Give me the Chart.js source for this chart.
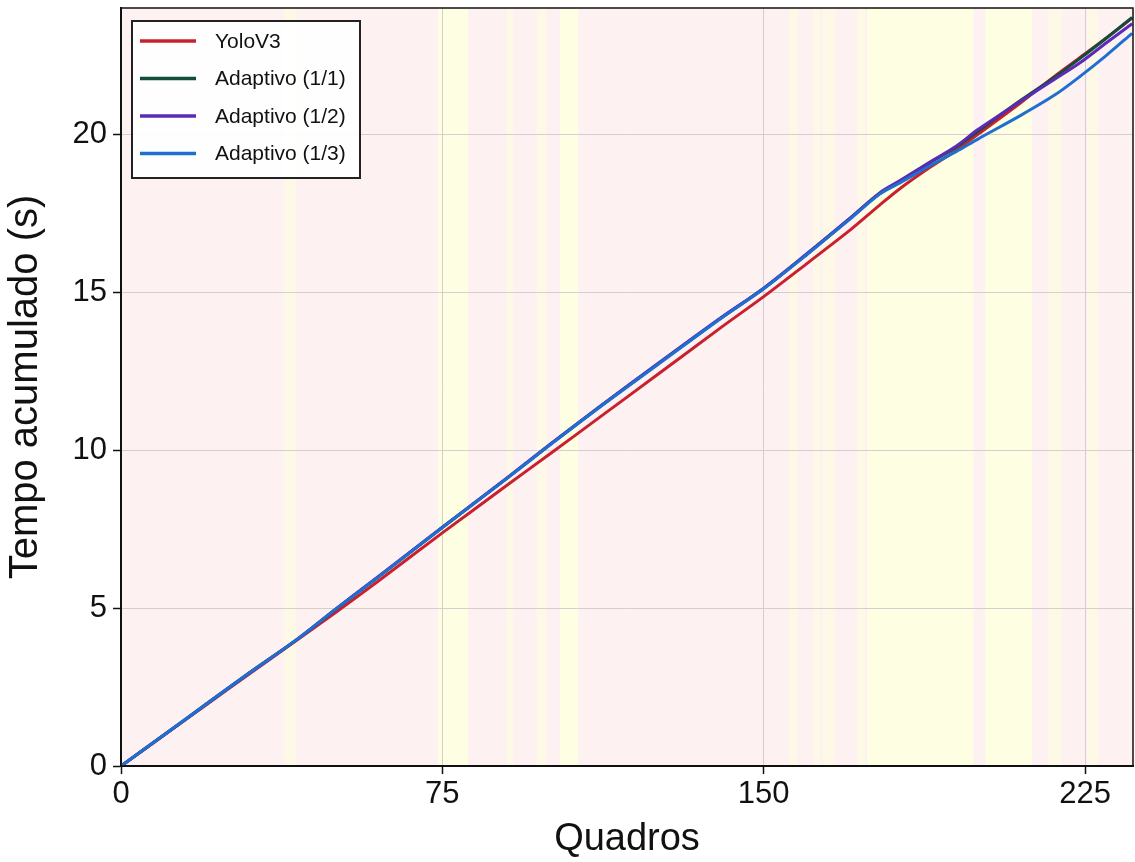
<!DOCTYPE html>
<html>
<head>
<meta charset="utf-8">
<script src="https://cdn.jsdelivr.net/npm/chart.js@4.4.1/dist/chart.umd.min.js"></script>
<style>
  html, body { margin: 0; padding: 0; background: #fff; }
  #wrap { width: 1135px; height: 862px; }
</style>
</head>
<body>
<div id="wrap"><canvas id="chart" width="1135" height="862"></canvas></div>
<script>
(function () {

  /* data */
  const frames = [0, 10, 20, 30, 41, 50, 60, 75, 90, 100, 112, 125, 140, 150, 160, 170, 177, 182, 189, 195, 200, 210, 218, 224, 230, 236];
  const yoloV3 = [0, 0.97, 1.95, 2.92, 3.98, 4.85, 5.85, 7.38, 8.88, 9.87, 11.07, 12.37, 13.88, 14.86, 15.9, 16.95, 17.75, 18.3, 18.97, 19.5, 20.0, 21.0, 21.85, 22.45, 23.05, 23.68];
  const adapt11 = [0, 0.98, 1.97, 2.95, 4.0, 4.95, 5.98, 7.55, 9.1, 10.16, 11.4, 12.7, 14.18, 15.12, 16.2, 17.32, 18.12, 18.52, 19.12, 19.6, 20.1, 21.08, 21.82, 22.42, 23.05, 23.7];
  const adapt12 = [0, 0.98, 1.97, 2.95, 4.0, 4.96, 5.99, 7.56, 9.11, 10.17, 11.41, 12.71, 14.19, 15.13, 16.21, 17.33, 18.14, 18.55, 19.14, 19.63, 20.15, 21.05, 21.75, 22.28, 22.9, 23.5];
  const adapt13 = [0, 0.98, 1.97, 2.95, 4.0, 4.95, 5.98, 7.55, 9.1, 10.15, 11.39, 12.68, 14.17, 15.11, 16.18, 17.3, 18.1, 18.48, 19.02, 19.46, 19.85, 20.6, 21.25, 21.85, 22.5, 23.2];

  const seriesLabels = ["YoloV3", "Adaptivo (1/1)", "Adaptivo (1/2)", "Adaptivo (1/3)"];
  const seriesValues = [yoloV3, adapt11, adapt12, adapt13];

  // frame ranges shaded yellow
  const bandStart = [38, 74, 90, 97, 102.5, 156, 161.5, 163.7, 171.8, 174.1, 201.7, 216.4, 225.5];
  const bandEnd   = [41, 81, 91.5, 99.4, 106.7, 158, 163.2, 166.7, 173.7, 198.9, 212.6, 219.7, 228];

  const xTicks = [0, 75, 150, 225];
  const yTicks = [0, 5, 10, 15, 20];

  const colors = ["#c8202c", "#124d3c", "#5a2ab8", "#1f6fcf"];
  const FONT = '"Liberation Sans", Arial, sans-serif';

  const bgPlugin = {
    id: "bgBands",
    beforeDraw(chart) {
      const { ctx, chartArea: a, scales } = chart;
      ctx.save();
      ctx.fillStyle = "#fdf1f2";
      ctx.fillRect(a.left, a.top, a.right - a.left, a.bottom - a.top);
      bandStart.forEach((s, i) => {
        const x0 = scales.x.getPixelForValue(s);
        const x1 = scales.x.getPixelForValue(bandEnd[i]);
        const wide = bandEnd[i] - s >= 4;
        ctx.fillStyle = wide ? "#fefee2" : "#fef8e6";
        ctx.fillRect(x0, a.top, x1 - x0, a.bottom - a.top);
      });
      ctx.restore();
    }
  };

  const framePlugin = {
    id: "frameLegend",
    afterDraw(chart) {
      const { ctx, chartArea: a } = chart;
      ctx.save();
      ctx.strokeStyle = "#111";
      ctx.lineWidth = 1.5;
      ctx.strokeRect(a.left, a.top, a.right - a.left, a.bottom - a.top);

      // legend box, top-left inside the axes
      const x = a.left + 11, y = a.top + 13, w = 228, h = 157;
      ctx.fillStyle = "rgba(255,255,255,0.92)";
      ctx.fillRect(x, y, w, h);
      ctx.strokeStyle = "#222";
      ctx.lineWidth = 2;
      ctx.strokeRect(x, y, w, h);
      ctx.font = "21px " + FONT;
      ctx.textBaseline = "middle";
      chart.data.datasets.forEach((ds, i) => {
        const ry = y + 20 + i * 37.5;
        ctx.strokeStyle = ds.borderColor;
        ctx.lineWidth = 3.5;
        ctx.beginPath();
        ctx.moveTo(x + 8, ry);
        ctx.lineTo(x + 64, ry);
        ctx.stroke();
        ctx.fillStyle = "#111";
        ctx.fillText(ds.label, x + 83, ry + 1);
      });
      ctx.restore();
    }
  };

  const datasets = seriesLabels.map((label, i) => ({
    label,
    data: frames.map((f, k) => ({ x: f, y: seriesValues[i][k] })),
    borderColor: colors[i],
    backgroundColor: colors[i],
    borderWidth: 3,
    pointRadius: 0,
    tension: 0.3,
    fill: false,
    order: seriesLabels.length - i   // later series drawn on top
  }));

  new Chart(document.getElementById("chart").getContext("2d"), {
    type: "line",
    data: { datasets },
    options: {
      responsive: false,
      animation: false,
      devicePixelRatio: 1,
      layout: { padding: { top: 8, right: 2, left: 0, bottom: 0 } },
      plugins: {
        legend: { display: false },
        tooltip: { enabled: false }
      },
      scales: {
        x: {
          type: "linear",
          min: 0,
          max: 236.2,
          afterBuildTicks(s) { s.ticks = xTicks.map(v => ({ value: v })); },
          afterFit(s) { s.height = 96; s.paddingLeft = 0; s.paddingRight = 0; },
          ticks: { color: "#111", font: { size: 31, family: FONT }, padding: 2 },
          grid: { color: "#d6cdcf", lineWidth: 1, tickColor: "#111", tickLength: 8, tickWidth: 1.5 },
          border: { color: "#111", width: 2 },
          title: { display: true, text: "Quadros", color: "#111", font: { size: 38, family: FONT }, padding: { top: 0, bottom: 0 } }
        },
        y: {
          min: 0,
          max: 24,
          afterBuildTicks(s) { s.ticks = yTicks.map(v => ({ value: v })); },
          afterFit(s) { s.width = 121; s.paddingTop = 0; s.paddingBottom = 0; },
          ticks: { color: "#111", font: { size: 31, family: FONT }, padding: 6 },
          grid: { color: "#d6cdcf", lineWidth: 1, tickColor: "#111", tickLength: 8, tickWidth: 1.5 },
          border: { color: "#111", width: 2 },
          title: { display: true, text: "Tempo acumulado (s)", color: "#111", font: { size: 40, family: FONT }, padding: { top: 2, bottom: 0 } }
        }
      }
    },
    plugins: [bgPlugin, framePlugin]
  });

})();
</script>
</body>
</html>
